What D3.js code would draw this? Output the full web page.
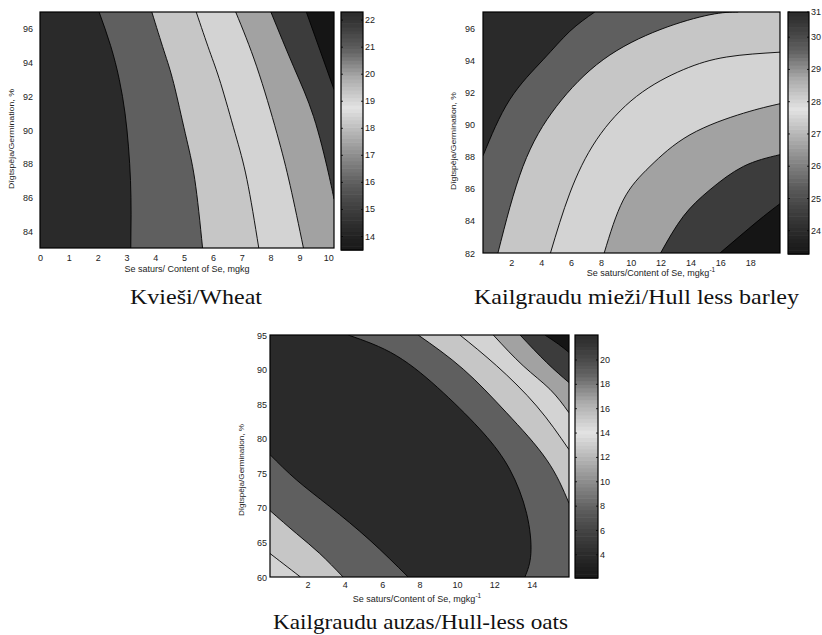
<!DOCTYPE html>
<html>
<head>
<meta charset="utf-8">
<script src="https://cdn.jsdelivr.net/npm/d3@7"></script>
<style>
  body { margin: 0; background: #fff; }
  svg { display: block; }
  .tick-label, .axis-title, .ylab { font-family: "Liberation Sans", Arial, sans-serif; fill: #222; }
  .caption { font-family: "Liberation Serif", "Times New Roman", serif; fill: #111; }
</style>
</head>
<body>
<svg id="chart" width="822" height="635"></svg>
<script>
// ---------- Data: Kvieši / Wheat ----------
const wheatXDomain = [0, 10.2];
const wheatYDomain = [83, 97];
const wheatXTicks = [0, 1, 2, 3, 4, 5, 6, 7, 8, 9, 10];
const wheatYTicks = [84, 86, 88, 90, 92, 94, 96];
const wheatBarDomain = [13.5, 22.3];
const wheatBarTicks = [14, 15, 16, 17, 18, 19, 20, 21, 22];
// contour lines [Se, germination]; each opens the band given in wheatLineBands
const wheatLines = [
  [[3.15, 83], [3.16, 85], [3.14, 87], [3.07, 89], [2.95, 91], [2.75, 93], [2.45, 95], [2.05, 97]],
  [[5.64, 83], [5.37, 87.06], [5.04, 89.8], [4.64, 92.76], [4.3, 94.7], [3.88, 97]],
  [[7.59, 83], [7.18, 87.06], [6.77, 89.8], [6.27, 92.76], [5.88, 94.7], [5.42, 97]],
  [[9.14, 83], [8.68, 86.7], [8.22, 89.8], [7.52, 93.75], [6.79, 97]],
  [[10.2, 85.9], [10.0, 87.5], [9.49, 90.8], [8.8, 93.75], [8.01, 97]],
  [[10.2, 92.4], [9.72, 94.7], [9.24, 97]]
];
const wheatLineBands = [1, 2, 3, 4, 5, 6];

// ---------- Data: Kailgraudu mieži / Hull less barley ----------
const barleyXDomain = [0.1, 20];
const barleyYDomain = [82, 97];
const barleyXTicks = [2, 4, 6, 8, 10, 12, 14, 16, 18];
const barleyYTicks = [82, 84, 86, 88, 90, 92, 94, 96];
const barleyBarDomain = [23.28, 30.78];
const barleyBarTicks = [24, 25, 26, 27, 28, 29, 30, 31];
const barleyLines = [
  [[0.1, 88.05], [1.89, 91.54], [4.13, 94.03], [5.92, 95.8], [7.59, 97]],
  [[1.1, 82], [2.78, 87.39], [5.02, 91.12], [8.15, 94.03], [11.96, 95.9], [15.31, 96.83], [17.2, 97]],
  [[4.62, 82], [5.92, 85.73], [7.71, 89.05], [10.39, 91.75], [13.52, 93.41], [16.43, 94.2], [20, 94.5]],
  [[8.22, 82], [9.5, 85.3], [11.29, 87.39], [13.97, 89.36], [17.55, 90.7], [20, 91.29]],
  [[12.0, 82], [13.52, 84.28], [15.31, 85.94], [17.55, 87.39], [20, 88.12]],
  [[15.98, 82], [17.55, 83.24], [18.9, 84.28], [20, 85.07]]
];
const barleyLineBands = [1, 2, 3, 4, 5, 6];

// ---------- Data: Kailgraudu auzas / Hull-less oats ----------
const oatsXDomain = [0, 16];
const oatsYDomain = [60, 95];
const oatsXTicks = [2, 4, 6, 8, 10, 12, 14];
const oatsYTicks = [60, 65, 70, 75, 80, 85, 90, 95];
const oatsBarDomain = [2.1, 22.05];
const oatsBarTicks = [4, 6, 8, 10, 12, 14, 16, 18, 20];
const oatsLines = [
  [[0, 77.7], [1.41, 74.06], [3.2, 70.18], [5.34, 65.33], [7.39, 60]],
  [[13.64, 60], [13.96, 63.4], [13.73, 69.21], [12.84, 75.51], [11.41, 80.85], [9.27, 86.66], [6.77, 92.0], [4.18, 95]],
  [[0, 69.6], [1.41, 66.3], [2.66, 63.4], [3.91, 60]],
  [[16, 70.67], [14.8, 76.97], [12.66, 83.75], [10.34, 90.06], [7.93, 95]],
  [[0, 63.4], [0.7, 61.94], [1.63, 60]],
  [[16, 78.42], [14.27, 84.72], [12.13, 90.54], [10.16, 95]],
  [[16, 83.75], [14.98, 87.15], [13.55, 90.54], [11.95, 95]],
  [[16, 88.12], [14.8, 91.03], [13.38, 95]],
  [[16, 92.48], [15.43, 93.69], [14.71, 95]]
];
const oatsLineBands = [1, 1, 2, 2, 3, 3, 4, 5, 6];

// ---------- Styles ----------
const bandFills = ["#2a2a2a", "#5f5f5f", "#c6c6c6", "#d3d3d3", "#a2a2a2", "#3c3c3c", "#151515"];
// colorbar gray ramp: position along bar (0 bottom .. 1 top) -> gray level
const rampPos  = [0, 0.05, 0.16, 0.27, 0.39, 0.5, 0.6, 0.73, 0.84, 0.95, 1];
const rampGray = [0.1, 0.125, 0.23, 0.35, 0.54, 0.72, 0.89, 0.66, 0.38, 0.22, 0.17];
const ramp = d3.scaleLinear().domain(rampPos).range(rampGray);
const grayOf = v => { const g = Math.round(255 * v); return `rgb(${g},${g},${g})`; };

const svg = d3.select("#chart");

const panels = [
  {
    id: "wheat", xDomain: wheatXDomain, yDomain: wheatYDomain, xTicks: wheatXTicks, yTicks: wheatYTicks,
    barDomain: wheatBarDomain, barTicks: wheatBarTicks, lines: wheatLines, bands: wheatLineBands,
    plot: { x: 40, y: 12, w: 294, h: 236 }, bar: { x: 341, y: 12, w: 22, h: 238 },
    yGap: 7, xLabY: 260.5, xTitle: { x: 187, y: 272, sup: false },
    yTitle: { x: 11, y: 139, len: 100 },
    caption: { x: 196, y: 303.5, len: 132, text: "Kvieši/Wheat" },
    xTitleText: "Se saturs/ Content of Se, mgkg"
  },
  {
    id: "barley", xDomain: barleyXDomain, yDomain: barleyYDomain, xTicks: barleyXTicks, yTicks: barleyYTicks,
    barDomain: barleyBarDomain, barTicks: barleyBarTicks, lines: barleyLines, bands: barleyLineBands,
    plot: { x: 483, y: 12, w: 297, h: 241 }, bar: { x: 788, y: 12, w: 21, h: 242 },
    yGap: 8, xLabY: 265.5, xTitle: { x: 651, y: 276, sup: true },
    yTitle: { x: 453, y: 141, len: 98 },
    caption: { x: 636.5, y: 303.5, len: 325, text: "Kailgraudu mieži/Hull less barley" },
    xTitleText: "Se saturs/Content of Se, mgkg"
  },
  {
    id: "oats", xDomain: oatsXDomain, yDomain: oatsYDomain, xTicks: oatsXTicks, yTicks: oatsYTicks,
    barDomain: oatsBarDomain, barTicks: oatsBarTicks, lines: oatsLines, bands: oatsLineBands,
    plot: { x: 270, y: 335, w: 299, h: 242 }, bar: { x: 575, y: 335, w: 23, h: 243 },
    yGap: 3, xLabY: 588, xTitle: { x: 417, y: 602, sup: true },
    yTitle: { x: 241, y: 470, len: 92 },
    caption: { x: 420.5, y: 628.5, len: 295, text: "Kailgraudu auzas/Hull-less oats" },
    xTitleText: "Se saturs/Content of Se, mgkg"
  }
];

// position of a boundary point along the plot frame, clockwise from top-left (0..4)
function framePos(p, r) {
  const d = [
    Math.abs(p[1] - r.y0), Math.abs(p[0] - r.x1),
    Math.abs(p[1] - r.y1), Math.abs(p[0] - r.x0)
  ];
  const e = d.indexOf(Math.min(...d));
  if (e === 0) return (p[0] - r.x0) / (r.x1 - r.x0);
  if (e === 1) return 1 + (p[1] - r.y0) / (r.y1 - r.y0);
  if (e === 2) return 2 + (r.x1 - p[0]) / (r.x1 - r.x0);
  return 3 + (r.y1 - p[1]) / (r.y1 - r.y0);
}

function drawPanel(P) {
  const g = svg.append("g").attr("class", P.id);
  const r = { x0: P.plot.x, y0: P.plot.y, x1: P.plot.x + P.plot.w, y1: P.plot.y + P.plot.h };
  const x = d3.scaleLinear().domain(P.xDomain).range([r.x0, r.x1]);
  const y = d3.scaleLinear().domain(P.yDomain).range([r.y1, r.y0]);
  const corners = [[r.x0, r.y0], [r.x1, r.y0], [r.x1, r.y1], [r.x0, r.y1]];

  const clipId = "clip-" + P.id;
  svg.append("defs").append("clipPath").attr("id", clipId)
    .append("rect").attr("x", r.x0).attr("y", r.y0).attr("width", P.plot.w).attr("height", P.plot.h);

  const line = d3.line().x(d => x(d[0])).y(d => y(d[1])).curve(d3.curveNatural);
  const body = g.append("g").attr("clip-path", `url(#${clipId})`);

  // base band
  body.append("rect").attr("x", r.x0).attr("y", r.y0).attr("width", P.plot.w).attr("height", P.plot.h)
    .attr("fill", bandFills[0]);

  // filled bands: region on the right-hand side of each line, closed along the frame
  const order = d3.range(P.lines.length).sort((a, b) => P.bands[a] - P.bands[b]);
  order.forEach(i => {
    const pts = P.lines[i];
    const s = [x(pts[0][0]), y(pts[0][1])];
    const e = [x(pts[pts.length - 1][0]), y(pts[pts.length - 1][1])];
    const te = framePos(e, r);
    let ts = framePos(s, r);
    if (ts <= te) ts += 4;
    let path = line(pts);
    for (let k = Math.ceil(te); k < ts; k++) {
      if (k === te) continue;
      const c = corners[k % 4];
      path += `L${c[0]},${c[1]}`;
    }
    path += "Z";
    body.append("path").attr("d", path).attr("fill", bandFills[P.bands[i]]).attr("stroke", "none");
  });

  // contour lines
  body.selectAll("path.cline").data(P.lines).join("path")
    .attr("class", "cline")
    .attr("d", line)
    .attr("fill", "none")
    .attr("stroke", "#000")
    .attr("stroke-width", 0.9);

  // frame
  g.append("rect").attr("x", r.x0).attr("y", r.y0).attr("width", P.plot.w).attr("height", P.plot.h)
    .attr("fill", "none").attr("stroke", "#000").attr("stroke-width", 1.2);

  // axes
  const xAxis = d3.axisBottom(x).tickValues(P.xTicks).tickSize(0).tickFormat(d3.format("d"));
  const xa = g.append("g").attr("transform", `translate(0,${r.y1})`).call(xAxis);
  xa.select(".domain").remove();
  xa.selectAll("text").attr("class", "tick-label").attr("y", P.xLabY - r.y1).attr("dy", 0)
    .attr("font-size", 9).style("fill", "#222");

  const yAxis = d3.axisLeft(y).tickValues(P.yTicks).tickSize(0).tickFormat(d3.format("d"));
  const ya = g.append("g").attr("transform", `translate(${r.x0},0)`).call(yAxis);
  ya.select(".domain").remove();
  ya.selectAll("text").attr("class", "tick-label").attr("x", -P.yGap).attr("dy", "0.34em")
    .attr("font-size", 9).style("fill", "#222");

  // x title
  const xt = g.append("text").attr("class", "axis-title").attr("x", P.xTitle.x).attr("y", P.xTitle.y)
    .attr("text-anchor", "middle").attr("font-size", 9).text(P.xTitleText);
  if (P.xTitle.sup) {
    xt.append("tspan").attr("font-size", 6.5).attr("dy", -4).text("-1");
  }

  // y title (vertical)
  g.append("text").attr("class", "ylab")
    .attr("transform", `translate(${P.yTitle.x},${P.yTitle.y}) rotate(-90)`)
    .attr("text-anchor", "middle").attr("dy", "0.35em").attr("font-size", 8)
    .attr("textLength", P.yTitle.len).attr("lengthAdjust", "spacingAndGlyphs")
    .text("Dīgtspēja/Germination, %");

  // colorbar
  const b = P.bar;
  const by = d3.scaleLinear().domain(P.barDomain).range([b.y + b.h, b.y]).clamp(true);
  const steps = 64;
  const cb = g.append("g");
  cb.selectAll("rect.step").data(d3.range(steps)).join("rect")
    .attr("class", "step")
    .attr("x", b.x)
    .attr("y", i => b.y + b.h - (i + 1) * b.h / steps)
    .attr("width", b.w)
    .attr("height", b.h / steps + 0.6)
    .attr("fill", i => grayOf(ramp((i + 0.5) / steps)));
  cb.append("rect").attr("x", b.x).attr("y", b.y).attr("width", b.w).attr("height", b.h)
    .attr("fill", "none").attr("stroke", "#000").attr("stroke-width", 1.2);
  cb.selectAll("line.tl").data(P.barTicks).join("line").attr("class", "tl")
    .attr("x1", b.x).attr("x2", b.x + 2).attr("y1", d => by(d)).attr("y2", d => by(d))
    .attr("stroke", "#000").attr("stroke-width", 0.8);
  cb.selectAll("line.tr").data(P.barTicks).join("line").attr("class", "tr")
    .attr("x1", b.x + b.w - 2).attr("x2", b.x + b.w).attr("y1", d => by(d)).attr("y2", d => by(d))
    .attr("stroke", "#000").attr("stroke-width", 0.8);
  cb.selectAll("text.bt").data(P.barTicks).join("text").attr("class", "tick-label bt")
    .attr("x", b.x + b.w + 2).attr("y", d => by(d)).attr("dy", "0.34em")
    .attr("font-size", 9).text(d => d);

  // caption
  svg.append("text").attr("class", "caption").attr("x", P.caption.x).attr("y", P.caption.y)
    .attr("text-anchor", "middle").attr("font-size", 21)
    .attr("textLength", P.caption.len).attr("lengthAdjust", "spacingAndGlyphs")
    .text(P.caption.text);
}

panels.forEach(drawPanel);
</script>
</body>
</html>
